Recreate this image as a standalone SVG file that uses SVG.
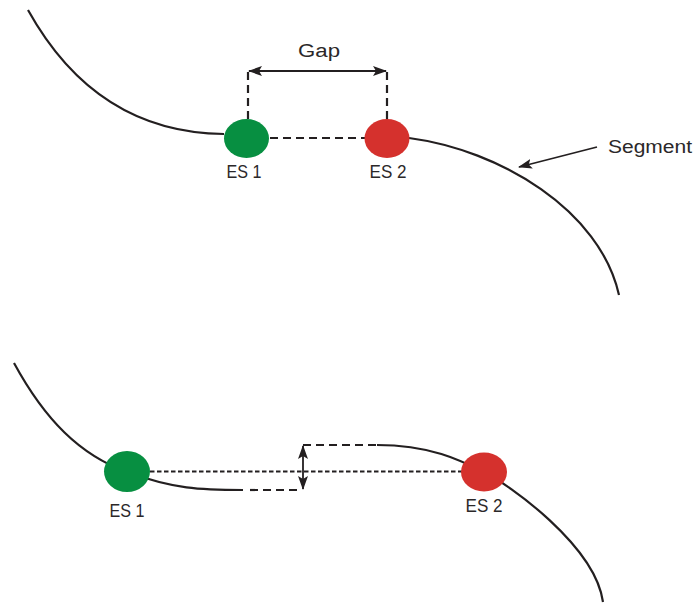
<svg xmlns="http://www.w3.org/2000/svg" width="696" height="603" viewBox="0 0 696 603">
<style>
.seg{fill:none;stroke:#231f20;stroke-width:2.2}
.dash{fill:none;stroke:#231f20;stroke-width:2.2;stroke-dasharray:8 5}
.dot{fill:none;stroke:#231f20;stroke-width:2.2;stroke-dasharray:4.5 2.5}
.arr{fill:none;stroke:#231f20;stroke-width:1.8}
.lbl{font-family:"Liberation Sans",Arial,sans-serif;font-size:18px;fill:#2b2829}
.g{fill:#078f41}
.r{fill:#d5312d}
</style>
<defs>
<marker id="ah" viewBox="0 0 14 10" refX="13" refY="5" markerWidth="14" markerHeight="10" markerUnits="userSpaceOnUse" orient="auto-start-reverse">
<path d="M0,0 L14,5 L0,10 L3,5 Z" fill="#231f20"/>
</marker>
</defs>
<g id="connectors">
<path class="seg" d="M28,10 C68,82 130,133 224,134"/>
<path class="seg" d="M409,138 C500,150 600,210 619,295"/>
<path class="dash" d="M248,72 V119"/>
<path class="dash" d="M387,72 V119"/>
<path class="dash" d="M270,138 H365"/>
<path class="arr" d="M249,71 H386" marker-start="url(#ah)" marker-end="url(#ah)"/>
<path class="arr" d="M597,147 L519,167" marker-end="url(#ah)"/>
<path class="seg" d="M14,363 C45,420 80,455 127,472 S200,490 243,490"/>
<path class="dash" d="M250,490 H302"/>
<path class="dot" d="M150,471.5 H462"/>
<path class="dash" d="M303,445 H377"/>
<path class="seg" d="M377,445 C430,445 460,460 484,472 S595,545 603,602"/>
<path class="arr" d="M303,446 V489" marker-start="url(#ah)" marker-end="url(#ah)"/>
</g>
<g id="es1-top"><ellipse class="g" cx="246.5" cy="138.5" rx="22.5" ry="19.5"/><text class="lbl" x="244" y="178" text-anchor="middle" textLength="35" lengthAdjust="spacingAndGlyphs">ES 1</text></g>
<g id="es2-top"><ellipse class="r" cx="387" cy="138.5" rx="22.5" ry="19.5"/><text class="lbl" x="388" y="178" text-anchor="middle" textLength="37" lengthAdjust="spacingAndGlyphs">ES 2</text></g>
<g id="gap-label"><text class="lbl" x="319" y="57" text-anchor="middle" textLength="42" lengthAdjust="spacingAndGlyphs">Gap</text></g>
<g id="segment-label"><text class="lbl" x="608" y="153" textLength="84" lengthAdjust="spacingAndGlyphs">Segment</text></g>
<g id="es1-bottom"><ellipse class="g" cx="127" cy="471.5" rx="23" ry="20.5"/><text class="lbl" x="127" y="517" text-anchor="middle" textLength="35" lengthAdjust="spacingAndGlyphs">ES 1</text></g>
<g id="es2-bottom"><ellipse class="r" cx="484" cy="472" rx="23" ry="19.5"/><text class="lbl" x="484" y="512" text-anchor="middle" textLength="37" lengthAdjust="spacingAndGlyphs">ES 2</text></g>
</svg>
